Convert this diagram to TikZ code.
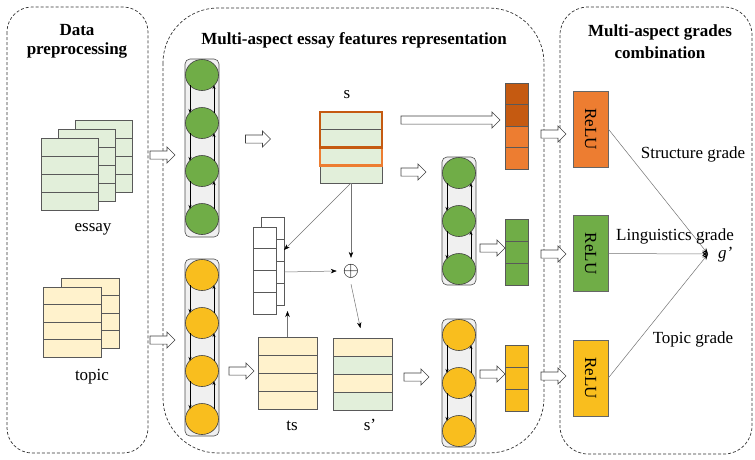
\documentclass[tikz,border=0pt]{standalone}
\usepackage{fontspec}
\setmainfont{Liberation Serif}
\usetikzlibrary{calc,arrows.meta,shapes.geometric,shapes.arrows}
\tikzset{>=Stealth}
\definecolor{cgreen}{HTML}{70AD47}
\definecolor{cyellow}{HTML}{F9BE1E}
\definecolor{corange}{HTML}{ED7D31}
\definecolor{cdorange}{HTML}{C55A11}
\definecolor{lgreen}{HTML}{E2EFDA}
\definecolor{lyellow}{HTML}{FFF2CC}
\tikzset{
  panel/.style={draw=black!80,dash pattern=on 3pt off 2pt,line width=0.7pt},
  ttl/.style={font=\bfseries\fontsize{17}{20}\selectfont,inner sep=0pt,anchor=base},
  lbl/.style={font=\fontsize{17}{20}\selectfont,inner sep=0pt,anchor=base},
  cell/.style={draw=black!65,line width=0.6pt,inner sep=0pt,outer sep=0pt,anchor=north west},
  lstmbox/.style={draw=black!70,fill=black!6,rounded corners=5pt,line width=0.6pt,inner sep=0pt,minimum width=34pt},
  unit/.style={ellipse,draw=black!75,line width=0.6pt,minimum width=33pt,minimum height=31pt,inner sep=0pt},
  rec/.style={line width=0.5pt,-{Stealth[length=4pt,width=3pt]}},
  harrow/.style={single arrow,draw=black!75,fill=white,line width=0.6pt,inner xsep=0pt,inner ysep=3.75pt,
    single arrow head extend=4pt,single arrow tip angle=90,minimum height=25pt},
  conn/.style={draw=black!55,line width=0.5pt,-{Stealth[length=6pt,width=4.5pt,color=black]}},
  relu/.style={draw=black!60,line width=0.6pt,minimum width=35pt,minimum height=76pt,inner sep=0pt,
    font=\fontsize{17}{20}\selectfont}
}
\begin{document}
\begin{tikzpicture}[x=1pt,y=-1pt]
\useasboundingbox (0,0) rectangle (755,459);
% panels
\draw[panel,rounded corners=25pt] (7,7) rectangle (148,453);
\draw[panel,rounded corners=55pt] (163,8) rectangle (544,453);
\draw[panel,rounded corners=28pt] (560,7) rectangle (752,454);
\node[ttl] (tD1) at (77,35) {Data};
\node[ttl] (tD2) at (77,54) {preprocessing};
\node[ttl] (tM) at (354,44) {Multi-aspect essay features representation};
\node[ttl] (tC1) at (660,36) {Multi-aspect grades};
\node[ttl] (tC2) at (660,58) {combination};
% essay and topic documents
\foreach \p/\px/\py in {3/75/120,2/58/129,1/41/138}
  \foreach \i in {0,...,3}
    \node[cell,fill=lgreen,minimum width=57pt,minimum height=18pt] (e\p\i) at (\px,{\py+18*\i}) {};
\node[lbl] (essay) at (93,231) {essay};
\foreach \p/\px/\py in {2/61/278,1/43/287}
  \foreach \i in {0,...,3}
    \node[cell,fill=lyellow,minimum width=58pt,minimum height=17.5pt] (t\p\i) at (\px,{\py+17.5*\i}) {};
\node[lbl] (topic) at (92,380) {topic};
% BiLSTM columns
\node[lstmbox,minimum height=178pt] (lA) at (202,148) {};
\foreach \i/\y in {1/75,2/123,3/171,4/219}
  \node[unit,fill=cgreen] (A\i) at (202,\y) {};
\node[lstmbox,minimum height=177pt] (lB) at (202,347.5) {};
\foreach \i/\y in {1/275,2/323,3/371,4/419}
  \node[unit,fill=cyellow] (B\i) at (202,\y) {};
\node[lstmbox,minimum height=128pt] (lC) at (459,221) {};
\foreach \i/\y in {1/173,2/221,3/269}
  \node[unit,fill=cgreen] (C\i) at (459,\y) {};
\node[lstmbox,minimum height=128pt] (lD) at (459,383) {};
\foreach \i/\y in {1/335,2/383,3/431}
  \node[unit,fill=cyellow] (D\i) at (459,\y) {};
\foreach \c/\n in {A/3,B/3,C/2,D/2}
  \foreach \i in {1,...,\n} {
    \pgfmathtruncatemacro\j{\i+1}
    \draw[rec] ($(\c\i)+(-12,10)$) -- ($(\c\j)+(-12,-10)$);
    \draw[rec] ($(\c\j)+(12,-10)$) -- ($(\c\i)+(12,10)$);
  }
% s, attention, ts, s'
\foreach \i in {0,...,3}
  \node[cell,fill=lgreen,minimum width=62pt,minimum height=17.75pt] (s\i) at (320,{112+17.75*\i}) {};
\draw[corange,line width=2.5pt] (s2.north west) rectangle (s2.south east);
\draw[cdorange,line width=2.8pt] (s0.north west) rectangle (s1.south east);
\node[lbl] (sl) at (347,98) {s};
\foreach \i in {0,...,3}
  \node[cell,fill=white,minimum width=23pt,minimum height=22pt] (ab\i) at (261,{217+22*\i}) {};
\foreach \i in {0,...,3}
  \node[cell,fill=white,minimum width=23pt,minimum height=21.75pt] (af\i) at (253,{227+21.75*\i}) {};
\node[inner sep=6pt,font=\fontsize{21}{24}\selectfont] (plus) at (351,271) {$\oplus$};
\foreach \i in {0,...,3}
  \node[cell,fill=lyellow,minimum width=59pt,minimum height=18pt] (ts\i) at (258,{337+18*\i}) {};
\node[lbl] (tsl) at (292,430) {ts};
\foreach \i/\f in {0/lyellow,1/lgreen,2/lyellow,3/lgreen}
  \node[cell,fill=\f,minimum width=59pt,minimum height=18pt] (sp\i) at (333,{338+18*\i}) {};
\node[lbl] (spl) at (370,430) {s’};
\draw[conn] (s3.south) -- (ab1.east);
\draw[conn] (s3.south) -- (plus.north);
\draw[conn] (ab2.east) -- (plus.west);
\draw[conn,shorten >=10pt] (plus.south) -- (sp0.north);
\draw[conn] (ts0.north) -- ($(ts0.north |- ab3.south)+(0,6)$);
% aspect vectors
\foreach \i/\f in {0/cdorange,1/cdorange,2/corange,3/corange}
  \node[cell,fill=\f,minimum width=23pt,minimum height=21.5pt] (o\i) at (505,{83+21.5*\i}) {};
\foreach \i in {0,...,2}
  \node[cell,fill=cgreen,minimum width=23pt,minimum height=22pt] (gv\i) at (505,{219+22*\i}) {};
\foreach \i in {0,...,2}
  \node[cell,fill=cyellow,minimum width=23pt,minimum height=22pt] (yv\i) at (505,{345+22*\i}) {};
% hollow arrows
\node[harrow] (h1) at (160.5,155) {};
\node[harrow] (h2) at (160.5,340) {};
\node[harrow] (h3) at (256,139) {};
\node[harrow] (h4) at (239.5,371) {};
\node[harrow,minimum height=99pt] (h5) at (448.5,120) {};
\node[harrow] (h6) at (411.5,172) {};
\node[harrow] (h7) at (414.5,377) {};
\node[harrow] (h8) at (490.5,248) {};
\node[harrow] (h9) at (490.5,374) {};
\node[harrow] (h10) at (551.5,134) {};
\node[harrow] (h11) at (551.5,254) {};
\node[harrow] (h12) at (551.5,376) {};
% grades
\node[relu,fill=corange] (rO) at (590.5,129) {\rotatebox{-90}{ReLU}};
\node[relu,fill=cgreen] (rG) at (590.5,253.5) {\rotatebox{-90}{ReLU}};
\node[relu,fill=cyellow] (rY) at (590.5,378) {\rotatebox{-90}{ReLU}};
\coordinate (g) at (708,254);
\draw[conn] (rO.east) -- (g);
\draw[conn] (rG.east) -- (g);
\draw[conn] (rY.east) -- (g);
\node[lbl,anchor=base west] (gl) at (718,258) {\textit{g’}};
\node[lbl] (sg) at (693,158.5) {Structure grade};
\node[lbl] (lg) at (675,240) {Linguistics grade};
\node[lbl] (tg) at (693,343) {Topic grade};
\end{tikzpicture}
\end{document}
